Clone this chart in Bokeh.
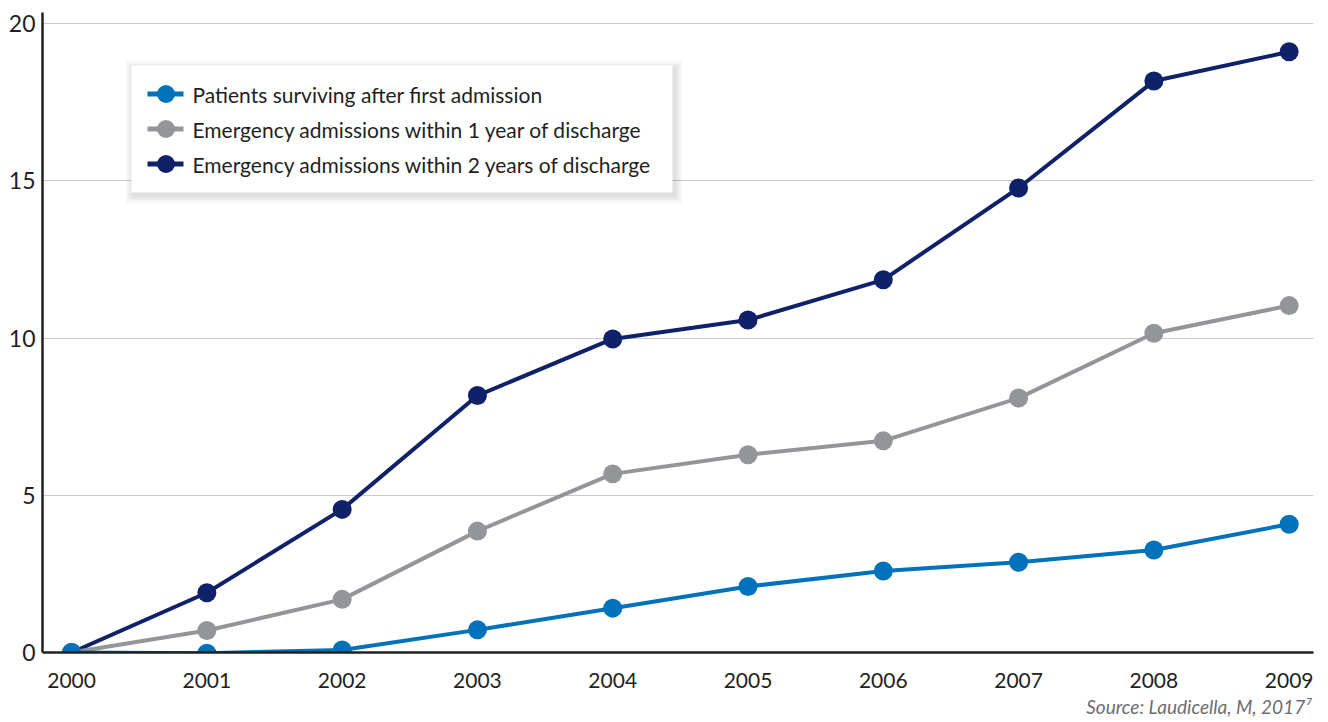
from bokeh.plotting import figure
from bokeh.models import FixedTicker, Title, Range1d
from bokeh.core.properties import value
from bokeh.embed import file_html
from bokeh.resources import INLINE

# Years and cumulative series values
years = [2000, 2001, 2002, 2003, 2004, 2005, 2006, 2007, 2008, 2009]
surviving = [0.0, -0.02, 0.08, 0.72, 1.41, 2.1, 2.59, 2.87, 3.26, 4.08]
emerg_1yr = [0.0, 0.7, 1.69, 3.86, 5.68, 6.29, 6.73, 8.09, 10.15, 11.03]
emerg_2yr = [0.0, 1.9, 4.55, 8.17, 9.97, 10.57, 11.85, 14.77, 18.17, 19.1]

series_names = [
    "Patients surviving after first admission",
    "Emergency admissions within 1 year of discharge",
    "Emergency admissions within 2 years of discharge",
]
series_colors = ["#0072bb", "#949599", "#0f2169"]
y_ticks = [0, 5, 10, 15, 20]

TEXT = "#231f20"
FONT = "Lato"

X0, X1 = 1999.785, 2009.18
Y0, Y1 = 0, 20.35

p = figure(width=1328, height=722, output_backend="svg", toolbar_location=None,
           x_range=Range1d(X0, X1), y_range=Range1d(Y0, Y1),
           min_border_left=42, min_border_right=15, min_border_top=12,
           min_border_bottom=70)
p.outline_line_color = None
p.background_fill_color = "white"
p.border_fill_color = "white"

# Axes
p.xaxis.ticker = FixedTicker(ticks=years)
p.yaxis.ticker = FixedTicker(ticks=y_ticks)
for ax in (p.xaxis[0], p.yaxis[0]):
    ax.axis_line_color = TEXT
    ax.axis_line_width = 2.5
    ax.major_tick_line_color = None
    ax.minor_tick_line_color = None
    ax.major_tick_out = 0
    ax.major_tick_in = 0
    ax.major_label_text_font = FONT
    ax.major_label_text_color = TEXT
p.xaxis.major_label_text_font_size = "21px"
p.yaxis.major_label_text_font_size = "23px"
p.xaxis.major_label_standoff = 20
p.yaxis.major_label_standoff = 7

p.xgrid.grid_line_color = None
p.ygrid.grid_line_color = "#c9c9c9"
p.ygrid.grid_line_width = 1

# Lines with markers; the first series is drawn last so it sits on top
all_series = [surviving, emerg_1yr, emerg_2yr]
for vals, col in reversed(list(zip(all_series, series_colors))):
    p.line(years, vals, line_color=col, line_width=4)
    p.scatter(years, vals, size=19, fill_color=col, line_color=col, line_width=0)

# ---- Legend box drawn by hand (pixel layout converted to data space) ----
FRAME_L, FRAME_T, FRAME_W, FRAME_H = 42, 12, 1271, 640


def sx(px):
    return X0 + (px - FRAME_L) * (X1 - X0) / FRAME_W


def sy(py):
    return Y1 - (py - FRAME_T) * (Y1 - Y0) / FRAME_H


LEG_L, LEG_R, LEG_T, LEG_B = 131, 672, 65, 192
ROW_Y = [93.5, 128.5, 163.5]
KEY_X0, KEY_X1, KEY_CX, LABEL_X = 147, 183, 165.5, 192

# soft drop shadow
for k in range(1, 9):
    p.quad(left=sx(LEG_L + 2 - k), right=sx(LEG_R + 2 + k),
           top=sy(LEG_T + 3 - k), bottom=sy(LEG_B + 3 + k),
           fill_color="black", fill_alpha=0.016, line_color=None)

p.quad(left=sx(LEG_L), right=sx(LEG_R), top=sy(LEG_T), bottom=sy(LEG_B),
       fill_color="white", line_color=None)

ky = [sy(r) for r in ROW_Y]
p.segment(x0=[sx(KEY_X0)] * 3, x1=[sx(KEY_X1)] * 3, y0=ky, y1=ky,
          line_color=series_colors, line_width=5)
p.scatter(x=[sx(KEY_CX)] * 3, y=ky, size=18, fill_color=series_colors,
          line_color=series_colors, line_width=0)
p.text(x=[sx(LABEL_X)] * 3, y=ky, text=series_names,
       text_font=value(FONT), text_font_size="21px", text_color=TEXT,
       text_baseline="middle", text_align="left")

p.add_layout(Title(text="Source: Laudicella, M, 2017\u2077", align="right",
                   text_font=FONT, text_font_style="italic",
                   text_font_size="19px", text_color="#6d6e71",
                   standoff=5, offset=2), "below")

open("out.html", "w").write(file_html(p, INLINE))
